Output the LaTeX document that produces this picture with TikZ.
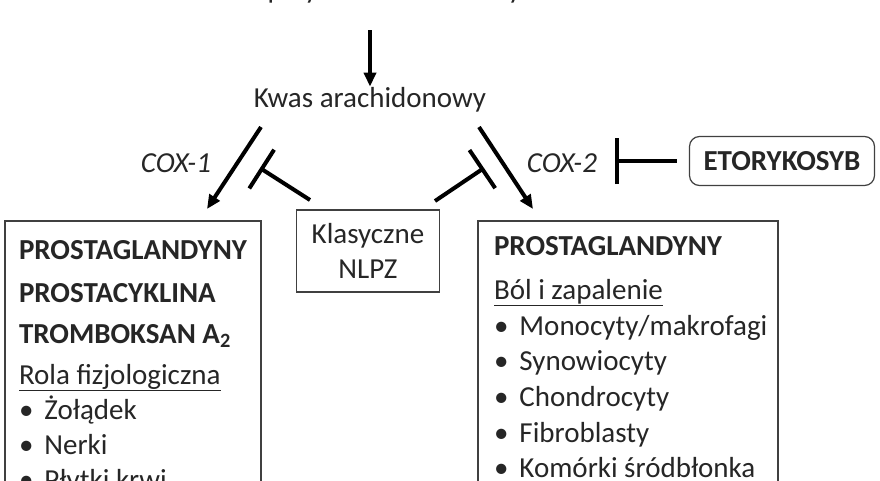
\documentclass[tikz,border=0pt]{standalone}
\usepackage{fontspec}
\setmainfont{Carlito}
\usetikzlibrary{arrows.meta, positioning}
\tikzset{
    every picture/.style = {
        > = {Triangle[length=14pt, width=12pt]},
        line width = 4pt
    },
    every node/.style = {
        inner sep = 1pt,
        outer sep = 0pt,
        font = \fontsize{29}{35}\selectfont,
        text = black!85
    },
    txt/.style = {anchor = base west},
    bold/.style = {font = \fontsize{29}{35}\selectfont\bfseries},
    frame/.style = {draw, line width = 1.2pt, draw = black!75, fill = white},
    inhibit/.style = {-{Bar[width=46pt, line width=4pt]}, shorten >= 0pt}
}
\begin{document}
\begin{tikzpicture}[x = 1pt, y = -1pt]
    \useasboundingbox (0,0) rectangle (880,480);
    % frames
    \draw[frame] (5,221) rectangle (261,500);
    \draw[frame] (478,221) rectangle (778,500);
    \node[frame, minimum width = 143pt, minimum height = 82pt, align = center] (nlpz) at (368,251) {Klasyczne\\NLPZ};
    \node[frame, bold, rounded corners = 10pt, minimum width = 185pt, minimum height = 49pt] (etor) at (782,161) {ETORYKOSYB};
    % pathway
    \node (fosf) at (370,-9) {Fosfolipidy błon komórkowych};
    \node (kwas) at (370,100) {Kwas arachidonowy};
    \coordinate (top) at (370,30);
    \coordinate (l1) at (261,127);
    \coordinate (l2) at (207,209);
    \coordinate (r1) at (479,127);
    \coordinate (r2) at (533,209);
    \draw[->] (top) -- (kwas.north);
    \draw[->] (l1) -- (l2);
    \draw[->] (r1) -- (r2);
    \node[font = \fontsize{29}{35}\selectfont\itshape] (cox1) at (176,163) {COX-1};
    \node[font = \fontsize{29}{35}\selectfont\itshape] (cox2) at (562,163) {COX-2};
    % inhibitors
    \coordinate (nl) at (310,200);
    \coordinate (nr) at (435,201);
    \coordinate (bl) at (260,168);
    \coordinate (br) at (484,168);
    \coordinate (be) at (615,161);
    \path (etor.west) ++(-13,0) coordinate (ew);
    \draw[inhibit] (nl) -- (bl);
    \draw[inhibit] (nr) -- (br);
    \draw[inhibit] (ew) -- (be);
    % left box
    \node[txt, bold] (l-a) at (18,259) {PROSTAGLANDYNY};
    \node[txt, bold] (l-b) at (18,302) {PROSTACYKLINA};
    \node[txt, bold] (l-c) at (18,343) {TROMBOKSAN A\textsubscript{2}};
    \node[txt] (l-d) at (18,384) {\underline{Rola fizjologiczna}};
    \foreach \y/\t in {419/Żołądek, 454/Nerki, 489/Płytki krwi}
        \node[txt] at (18,\y) {\textbullet\hspace{11pt}\t};
    % right box
    \node[txt, bold] (r-a) at (493,255) {PROSTAGLANDYNY};
    \node[txt] (r-b) at (493,299) {\underline{Ból i zapalenie}};
    \foreach \y/\t in {335/Monocyty\slash makrofagi, 370/Synowiocyty, 406/Chondrocyty, 442/Fibroblasty, 477/Komórki śródbłonka}
        \node[txt] at (493,\y) {\textbullet\hspace{11pt}\t};
\end{tikzpicture}
\end{document}
